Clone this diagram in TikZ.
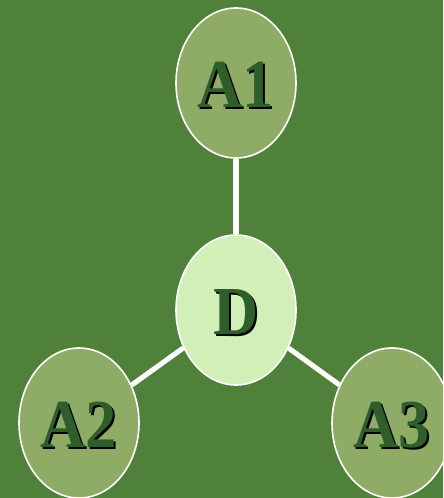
\documentclass[tikz,border=0pt]{standalone}
\usepackage{fontspec}
\setmainfont{Liberation Serif}
\usetikzlibrary{shapes.geometric}
\definecolor{bg}{HTML}{50813A}
\definecolor{anode}{HTML}{8FAC66}
\definecolor{dnode}{HTML}{D3EFB8}
\definecolor{txt}{HTML}{2F5E2C}
\newcommand{\shtext}[1]{\raisebox{-2.2pt}[\height][\depth]{\scalebox{1.02}[1.12]{\makebox[0pt][l]{\hspace{1.3pt}\raisebox{-1.3pt}{\color{black}#1}}\color{txt}#1}}}
\tikzset{
  bub/.style={ellipse, draw=white, line width=1.2pt, minimum width=90pt, minimum height=112.5pt, inner sep=0pt,
    font=\fontsize{46}{46}\selectfont\bfseries},
  anodes/.style={bub, fill=anode},
  dnodes/.style={bub, fill=dnode},
  link/.style={draw=white, line width=3.8pt}
}
\begin{document}
\begin{tikzpicture}[x=0.75pt,y=-0.75pt]
\fill[bg] (0,0) rectangle (443,498);
\useasboundingbox (0,0) rectangle (443,498);
\clip (0,0) rectangle (443,498);
\node[anodes] (a1) at (236,83) {\shtext{A1}};
\node[dnodes] (d) at (236,310) {\shtext{D}};
\node[anodes] (a2) at (79,423) {\shtext{A2}};
\node[anodes] (a3) at (392,423) {\shtext{A3}};
\draw[link] (a1) -- (d);
\draw[link] (d) -- (a2);
\draw[link] (d) -- (a3);
\end{tikzpicture}
\end{document}
